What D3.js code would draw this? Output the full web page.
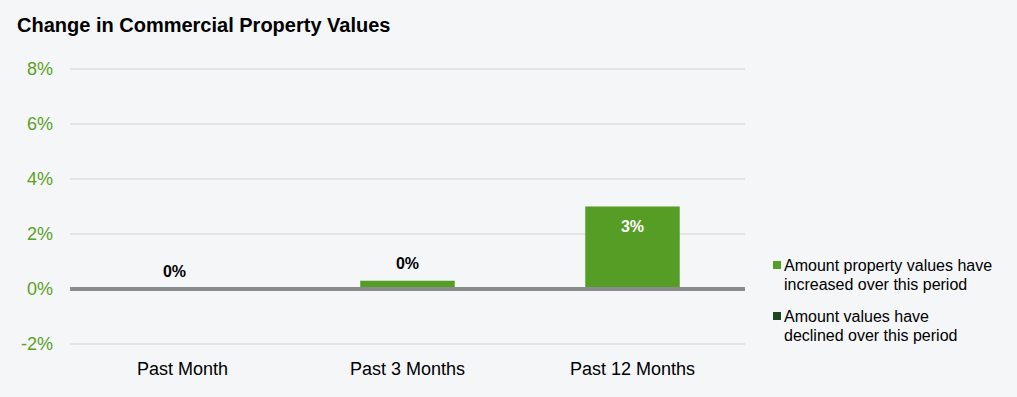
<!DOCTYPE html>
<html>
<head>
<meta charset="utf-8">
<script src="https://cdn.jsdelivr.net/npm/d3@7"></script>
<style>
  body { margin: 0; background: #f5f6f8; }
  svg { display: block; font-family: Arial, "Liberation Sans", sans-serif; }
</style>
</head>
<body>
<svg id="chart"></svg>
<script>
const categories = ["Past Month", "Past 3 Months", "Past 12 Months"];
const increased = [0, 0.3, 3];
const valueLabels = ["0%", "0%", "3%"];
const yTicks = [-2, 0, 2, 4, 6, 8];
const legendItems = [
  ["Amount property values have", "increased over this period"],
  ["Amount values have", "declined over this period"]
];

const width = 1017;
const height = 397;
const green = "#569d25";
const darkGreen = "#1d4721";

const svg = d3.select("#chart")
  .attr("width", width)
  .attr("height", height);

svg.append("rect")
  .attr("width", width)
  .attr("height", height)
  .attr("fill", "#f5f6f8");

svg.append("text")
  .attr("x", 17)
  .attr("y", 32)
  .attr("font-size", "20px")
  .attr("font-weight", "bold")
  .attr("fill", "#000")
  .text("Change in Commercial Property Values");

const x = d3.scaleBand()
  .domain(categories)
  .range([70, 745])
  .paddingInner(0.58)
  .paddingOuter(0.29);

const y = d3.scaleLinear()
  .domain([-2, 8])
  .range([344, 69]);

// gridlines
svg.append("g")
  .selectAll("line")
  .data(yTicks.filter(d => d !== 0))
  .join("line")
    .attr("x1", 70)
    .attr("x2", 745)
    .attr("y1", d => y(d))
    .attr("y2", d => y(d))
    .attr("stroke", "#d3d3d3")
    .attr("stroke-width", 1);

// y tick labels
svg.append("g")
  .selectAll("text")
  .data(yTicks)
  .join("text")
    .attr("x", 53)
    .attr("y", d => y(d))
    .attr("dy", "0.35em")
    .attr("text-anchor", "end")
    .attr("font-size", "18px")
    .attr("fill", "#5aa21e")
    .text(d => `${d}%`);

// bars
svg.append("g")
  .selectAll("rect")
  .data(increased)
  .join("rect")
    .attr("x", (d, i) => x(categories[i]))
    .attr("width", x.bandwidth())
    .attr("y", d => y(Math.max(0, d)))
    .attr("height", d => Math.abs(y(d) - y(0)))
    .attr("fill", green);

// zero line
svg.append("line")
  .attr("x1", 70)
  .attr("x2", 745)
  .attr("y1", y(0))
  .attr("y2", y(0))
  .attr("stroke", "#8c8c8c")
  .attr("stroke-width", 4);

// value labels (empty bar label sits a little left, as in the original)
svg.append("g")
  .selectAll("text")
  .data(increased)
  .join("text")
    .attr("x", (d, i) => x(categories[i]) + x.bandwidth() / 2 + (d === 0 ? -8 : 0))
    .attr("y", d => d > 1 ? y(d) + 25 : y(d) - 12)
    .attr("text-anchor", "middle")
    .attr("font-size", "16px")
    .attr("font-weight", "bold")
    .attr("fill", d => d > 1 ? "#fff" : "#000")
    .text((d, i) => valueLabels[i]);

// category labels
svg.append("g")
  .selectAll("text")
  .data(categories)
  .join("text")
    .attr("x", d => x(d) + x.bandwidth() / 2)
    .attr("y", 375)
    .attr("text-anchor", "middle")
    .attr("font-size", "18px")
    .attr("fill", "#000")
    .text(d => d);

// legend
const legend = svg.append("g")
  .selectAll("g")
  .data(legendItems)
  .join("g")
    .attr("transform", (d, i) => `translate(773, ${261 + i * 51})`);

legend.append("rect")
  .attr("width", 8)
  .attr("height", 8)
  .attr("fill", (d, i) => i === 0 ? green : darkGreen);

legend.append("text")
  .attr("font-size", "16px")
  .attr("fill", "#000")
  .selectAll("tspan")
  .data(d => d)
  .join("tspan")
    .attr("x", 11)
    .attr("y", (d, i) => 10 + i * 19)
    .text(d => d);
</script>
</body>
</html>
